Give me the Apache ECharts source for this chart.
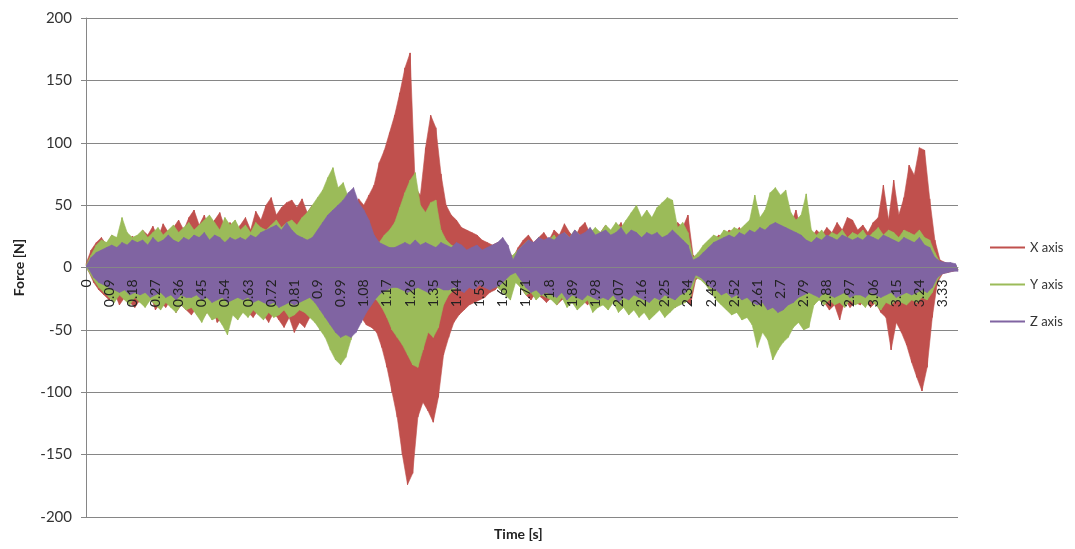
<!DOCTYPE html>
<html>
<head>
<meta charset="utf-8">
<script src="https://cdn.jsdelivr.net/npm/echarts@6/dist/echarts.min.js"></script>
<style>html,body{margin:0;padding:0;background:#fff}#c{width:1075px;height:549px}</style>
</head>
<body>
<div id="c"></div>
<script>
// Sample spacing (s): peaks (hi) at even samples, troughs (lo) at odd samples
const dt = 0.01;
const seriesNames = ['X axis', 'Y axis', 'Z axis'];

// X axis force, peaks / troughs (N)
const xHi = [3,14,20,24,18,26,22,28,20,25, 22,30,26,33,24,35,28,32,38,30, 40,46,34,42,30,38,44,32,36,28,
  34,40,30,45,38,50,56,42,48,52, 54,48,55,44,50,36,40,38,42,46, 45,52,48,55,50,58,66,84,94,108,
  122,140,160,172,64,58,96,122,112,75, 50,42,38,32,30,28,26,22,20,18, 20,18,14,8,16,22,26,20,24,28,
  22,30,26,35,28,24,32,36,27,30, 28,34,26,30,36,25,32,28,24,30, 30,26,34,28,30,36,32,42,10,6,
  12,18,22,26,24,30,28,32,26,30, 30,28,34,30,36,32,30,34,46,30, 28,24,30,26,32,28,36,30,40,38,
  30,34,28,36,40,66,38,70,42,56, 82,74,96,94,55,22,6,4,3,2];
const xLo = [-3,-12,-18,-22,-26,-20,-30,-24,-28,-32, -26,-30,-22,-34,-28,-32,-26,-36,-30,-34, -38,-32,-42,-36,-30,-44,-40,-34,-38,-30,
  -32,-36,-40,-34,-38,-44,-36,-42,-48,-40, -52,-44,-48,-40,-36,-42,-38,-40,-44,-46, -42,-38,-44,-40,-46,-48,-52,-64,-80,-100,
  -120,-150,-174,-165,-120,-108,-115,-124,-104,-70, -56,-44,-38,-34,-30,-28,-26,-24,-20,-18, -14,-10,-6,-10,-16,-22,-26,-20,-24,-28,
  -24,-30,-26,-22,-28,-32,-26,-30,-24,-28, -26,-22,-28,-24,-30,-26,-22,-28,-24,-30, -28,-24,-30,-26,-32,-28,-26,-30,-10,-6,
  -12,-18,-22,-26,-22,-28,-24,-30,-26,-28, -30,-26,-32,-28,-34,-30,-26,-32,-30,-28, -26,-30,-24,-28,-34,-30,-42,-26,-32,-28,
  -30,-26,-32,-28,-36,-40,-66,-44,-52,-62, -76,-88,-99,-80,-40,-12,-5,-4,-3,-2];

// Y axis force
const yHi = [2,10,18,22,20,26,24,40,28,24, 26,30,24,28,32,26,30,34,28,32, 36,30,34,38,42,36,30,40,34,38,
  30,34,28,36,32,30,34,38,32,36, 38,34,40,44,50,56,62,72,80,64, 68,56,46,38,30,24,22,20,26,30,
  36,48,60,70,76,50,44,52,54,30, 22,18,16,14,12,10,12,10,8,10, 8,6,4,10,14,18,22,18,24,20,
  22,26,20,28,24,30,26,22,28,32, 28,34,30,36,32,38,44,50,40,46, 40,48,52,56,54,32,36,28,8,12,
  18,22,26,24,30,28,32,30,34,38, 58,40,46,60,64,58,62,44,38,42, 59,30,26,30,24,28,26,30,24,28,
  26,30,24,28,32,26,30,28,24,30, 28,26,30,24,22,12,4,3,2,2];
const yLo = [-3,-10,-16,-20,-24,-28,-22,-26,-30,-24, -28,-32,-26,-30,-34,-28,-32,-36,-30,-34, -32,-38,-44,-36,-42,-40,-46,-54,-38,-42,
  -36,-40,-34,-38,-42,-36,-40,-38,-34,-40, -38,-34,-36,-40,-44,-50,-56,-66,-74,-78, -72,-58,-44,-34,-28,-24,-26,-32,-40,-50,
  -56,-62,-70,-78,-80,-66,-52,-56,-48,-30, -22,-18,-16,-14,-12,-14,-12,-10,-12,-14, -18,-22,-26,-12,-16,-22,-20,-26,-22,-24,
  -26,-30,-24,-32,-28,-34,-30,-26,-36,-32, -30,-34,-28,-36,-32,-38,-34,-40,-36,-42, -38,-34,-40,-36,-32,-30,-28,-24,-8,-10,
  -14,-20,-26,-30,-34,-38,-36,-42,-40,-46, -64,-52,-58,-74,-66,-60,-56,-48,-44,-50, -48,-30,-26,-30,-26,-30,-28,-32,-26,-30,
  -28,-32,-26,-30,-34,-28,-30,-26,-28,-30, -26,-28,-24,-26,-20,-10,-4,-3,-2,-2];

// Z axis force
const zHi = [1,8,12,14,16,18,16,20,18,22, 20,22,18,24,20,22,26,22,20,24, 22,26,24,28,22,26,24,20,24,22,
  24,22,26,24,28,30,32,34,30,36, 30,26,24,22,24,30,36,42,46,50, 54,60,64,52,46,38,26,20,18,16,
  16,18,20,18,22,18,20,18,16,20, 18,16,20,18,14,16,18,14,16,18, 20,24,18,6,14,18,22,20,24,22,
  24,22,26,28,24,30,26,28,32,26, 28,30,26,28,32,26,30,28,24,28, 26,28,24,26,30,26,22,18,6,8,
  12,16,20,22,24,26,24,28,26,30, 28,32,30,34,36,34,32,30,28,26, 22,20,24,22,26,24,22,26,24,22,
  24,22,26,24,22,26,24,22,20,24, 22,20,24,18,16,8,5,4,4,3];
const zLo = [-1,-8,-12,-14,-16,-18,-20,-18,-22,-20, -22,-20,-24,-22,-20,-24,-22,-26,-22,-24, -24,-22,-26,-24,-28,-26,-24,-28,-26,-24,
  -26,-24,-28,-26,-28,-30,-28,-32,-30,-28, -30,-28,-26,-24,-28,-34,-40,-46,-52,-56, -54,-56,-52,-44,-36,-30,-24,-20,-18,-16,
  -16,-18,-20,-18,-16,-18,-20,-18,-16,-18, -18,-16,-18,-20,-16,-18,-14,-16,-18,-16, -14,-10,-6,-4,-10,-16,-20,-18,-22,-20,
  -22,-24,-20,-26,-22,-24,-26,-22,-24,-26, -24,-26,-22,-28,-24,-26,-22,-24,-26,-28, -24,-26,-22,-24,-26,-22,-20,-16,-6,-8,
  -12,-16,-18,-22,-20,-24,-22,-26,-24,-28, -30,-28,-34,-32,-36,-34,-30,-28,-24,-22, -20,-22,-24,-20,-22,-24,-22,-20,-24,-22,
  -22,-24,-20,-22,-24,-22,-20,-24,-22,-20, -22,-20,-18,-20,-16,-8,-5,-4,-3,-3];

const colors = ['#C0504D', '#9BBB59', '#8064A2'];
const his = [xHi, yHi, zHi];
const los = [xLo, yLo, zLo];

function interleave(hi, lo) {
  const out = [];
  for (let k = 0; k < hi.length; k++) {
    out.push([+(2 * k * dt).toFixed(2), hi[k]]);
    out.push([+((2 * k + 1) * dt).toFixed(2), lo[k]]);
  }
  return out;
}
const seriesData = [interleave(xHi, xLo), interleave(yHi, yLo), interleave(zHi, zLo)];

// envelope band (peaks forward, troughs back) drawn through the axes' scales
function bandRenderer(i) {
  return function (params, api) {
    const hi = his[i], lo = los[i], pts = [];
    for (let k = 0; k < hi.length; k++) pts.push(api.coord([2 * k * dt, hi[k]]));
    for (let k = lo.length - 1; k >= 0; k--) pts.push(api.coord([(2 * k + 1) * dt, lo[k]]));
    return {type: 'polygon', shape: {points: pts}, style: {fill: colors[i], stroke: colors[i], lineWidth: 0.6}};
  };
}

const GRID_TOP = 18, GRID_BOTTOM = 32, H = 549;
const FONT = 'Lato, "Open Sans", sans-serif';
const chart = echarts.init(document.getElementById('c'), null, {renderer: 'canvas'});
const series = [];
seriesNames.forEach((n, i) => {
  series.push({
    name: n + ' band', type: 'custom', renderItem: bandRenderer(i), data: [[0, 0]],
    clip: true, z: 2 + 2 * i, silent: true
  });
  series.push({
    name: n, type: 'line', data: seriesData[i], showSymbol: false, symbol: 'none',
    lineStyle: {width: 1, color: colors[i]}, itemStyle: {color: colors[i]}, z: 3 + 2 * i
  });
});

chart.setOption({
  animation: false,
  backgroundColor: '#fff',
  color: colors,
  grid: {left: 86, right: 117, top: GRID_TOP, bottom: GRID_BOTTOM, containLabel: false, outerBoundsMode: 'none'},
  legend: {
    orient: 'vertical', left: 985, top: 236,
    icon: 'rect', itemWidth: 35, itemHeight: 2, itemGap: 24,
    data: seriesNames,
    textStyle: {fontFamily: FONT, fontSize: 13, color: '#333'}
  },
  graphic: [{
    type: 'text', left: 494, top: 527,
    style: {text: 'Time [s]', fontFamily: FONT, fontSize: 14, fontWeight: 'bold', fill: '#222'}
  }],
  xAxis: {
    type: 'value', min: 0, max: 3.39, interval: 0.09, z: 20,
    position: 'bottom',
    // place the category axis on the zero line (middle of the plot)
    offset: -(H - GRID_TOP - GRID_BOTTOM) / 2,
    axisLine: {show: true, onZero: false, lineStyle: {color: '#868686', width: 1}},
    axisTick: {show: false},
    splitLine: {show: false},
    axisLabel: {
      rotate: 90, margin: 12, fontFamily: FONT, fontSize: 14, color: '#222',
      showMaxLabel: false,
      formatter: v => String(+v.toFixed(2))
    }
  },
  yAxis: {
    type: 'value', min: -200, max: 200, interval: 50,
    name: 'Force [N]', nameLocation: 'middle', nameGap: 60,
    nameTextStyle: {fontFamily: FONT, fontSize: 14, fontWeight: 'bold', color: '#222'},
    axisLine: {show: true, onZero: false, lineStyle: {color: '#868686'}},
    axisTick: {show: true, length: 5, lineStyle: {color: '#868686'}},
    splitLine: {show: true, lineStyle: {color: '#868686', width: 1}},
    axisLabel: {fontFamily: FONT, fontSize: 15, color: '#333', margin: 14}
  },
  series: series
});
</script>
</body>
</html>
